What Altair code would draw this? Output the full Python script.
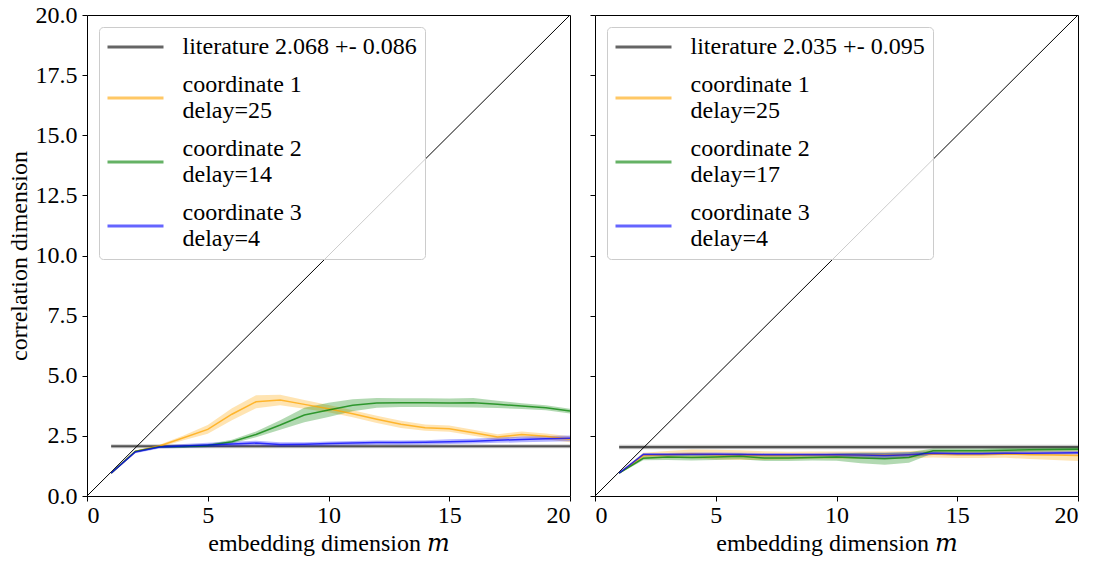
import altair as alt
import pandas as pd

# embedding dimensions
m = list(range(1, 21))

# left panel: correlation dimension estimates (mean and spread) per coordinate
left_lit = 2.068
left_lit_err = 0.086
left_delays = [25, 14, 4]
left_c1 = [0.95, 1.85, 2.08, 2.42, 2.77, 3.40, 3.92, 3.99, 3.81, 3.63, 3.42, 3.19, 2.98, 2.84, 2.80, 2.63, 2.45, 2.56, 2.48, 2.36]
left_c1_sd = [0.02, 0.04, 0.05, 0.10, 0.18, 0.25, 0.27, 0.22, 0.18, 0.15, 0.15, 0.15, 0.15, 0.13, 0.13, 0.12, 0.12, 0.12, 0.12, 0.12]
left_c2 = [0.95, 1.85, 2.05, 2.06, 2.10, 2.26, 2.56, 2.95, 3.37, 3.58, 3.77, 3.87, 3.88, 3.88, 3.87, 3.88, 3.81, 3.74, 3.67, 3.53]
left_c2_sd = [0.02, 0.04, 0.04, 0.05, 0.06, 0.08, 0.12, 0.20, 0.30, 0.30, 0.25, 0.20, 0.18, 0.18, 0.18, 0.20, 0.15, 0.12, 0.10, 0.10]
left_c3 = [0.95, 1.83, 2.04, 2.08, 2.12, 2.16, 2.20, 2.14, 2.15, 2.18, 2.20, 2.22, 2.22, 2.23, 2.26, 2.28, 2.32, 2.35, 2.38, 2.40]
left_c3_sd = [0.02, 0.05, 0.06, 0.08, 0.09, 0.10, 0.10, 0.09, 0.09, 0.09, 0.09, 0.09, 0.09, 0.09, 0.10, 0.10, 0.11, 0.12, 0.12, 0.12]

# right panel
right_lit = 2.035
right_lit_err = 0.095
right_delays = [25, 17, 4]
right_c1 = [0.95, 1.68, 1.72, 1.75, 1.72, 1.70, 1.68, 1.68, 1.70, 1.70, 1.70, 1.70, 1.72, 1.75, 1.72, 1.72, 1.75, 1.72, 1.70, 1.68]
right_c1_sd = [0.02, 0.12, 0.15, 0.18, 0.20, 0.20, 0.18, 0.16, 0.15, 0.15, 0.15, 0.15, 0.15, 0.15, 0.14, 0.14, 0.16, 0.18, 0.20, 0.22]
right_c2 = [0.95, 1.57, 1.62, 1.60, 1.62, 1.65, 1.58, 1.58, 1.60, 1.62, 1.58, 1.55, 1.60, 1.88, 1.88, 1.88, 1.90, 1.92, 1.93, 1.94]
right_c2_sd = [0.02, 0.08, 0.12, 0.12, 0.12, 0.12, 0.12, 0.12, 0.12, 0.15, 0.22, 0.25, 0.22, 0.10, 0.10, 0.10, 0.10, 0.08, 0.08, 0.08]
right_c3 = [0.95, 1.73, 1.73, 1.74, 1.74, 1.73, 1.72, 1.72, 1.72, 1.72, 1.70, 1.68, 1.72, 1.78, 1.76, 1.76, 1.78, 1.78, 1.79, 1.80]
right_c3_sd = [0.02, 0.06, 0.06, 0.07, 0.07, 0.07, 0.07, 0.07, 0.07, 0.08, 0.10, 0.12, 0.10, 0.07, 0.07, 0.07, 0.07, 0.07, 0.07, 0.07]

x_ticks = [0, 5, 10, 15, 20]
y_ticks = [0, 2.5, 5, 7.5, 10, 12.5, 15, 17.5, 20]

FONT = "Liberation Serif, DejaVu Serif, serif"
FS = 24
W, H = 483, 481
colors = ["black", "orange", "green", "blue"]

# legend stroke symbol: a small nominal symbol size keeps the rows compact, the
# path itself is drawn 4 radii to each side (56 px); two-line entries get it
# lowered by half a text line so it sits between the two lines
SYM_R = 7
half_line = (FS + 2) / 2 / SYM_R
sym_expr = f"indexof(datum.label, '|') >= 0 ? 'M-4,{half_line:.4f}H4' : 'M-4,0H4'"
sym_offset = 16.5
label_offset = 35


def panel(lit, lit_err, delays, means, sds, show_y_labels):
    lit_label = f"literature {lit:.3f} +- {lit_err:.3f}"
    labels = [lit_label] + [f"coordinate {i + 1}|delay={d}" for i, d in enumerate(delays)]

    rows = []
    for k, (mu, sd) in enumerate(zip(means, sds)):
        for mi, v, s in zip(m, mu, sd):
            rows.append({"m": mi, "v": v, "lo": v - s, "hi": v + s, "series": labels[k + 1]})
    curves = pd.DataFrame(rows)
    lit_df = pd.DataFrame({
        "m": [m[0], m[-1]],
        "v": [lit, lit],
        "lo": [lit - lit_err] * 2,
        "hi": [lit + lit_err] * 2,
        "series": [lit_label] * 2,
    })
    diag = pd.DataFrame({"m": [0, 20], "v": [0, 20]})

    xscale = alt.Scale(domain=[0, 20], nice=False, zero=False)
    yscale = alt.Scale(domain=[0, 20], nice=False, zero=False)
    xaxis = alt.Axis(values=x_ticks, format="d", title="embedding dimension 𝑚", grid=False,
                     domain=False, tickColor="black", tickSize=5, labelPadding=2,
                     labelFont=FONT, labelFontSize=FS, labelColor="black",
                     titleFont=FONT, titleFontSize=FS, titleFontWeight="normal",
                     titleColor="black", titlePadding=4)
    if show_y_labels:
        yaxis = alt.Axis(values=y_ticks, format=".1f", title="correlation dimension", grid=False,
                         domain=False, tickColor="black", tickSize=5, labelPadding=5,
                         labelFont=FONT, labelFontSize=FS, labelColor="black",
                         titleFont=FONT, titleFontSize=FS, titleFontWeight="normal",
                         titleColor="black", titlePadding=4)
    else:
        yaxis = alt.Axis(values=y_ticks, labels=False, title=None, grid=False, domain=False,
                         tickColor="black", tickSize=5)

    cscale = alt.Scale(domain=labels, range=colors)
    legend = alt.Legend(
        title=None, orient="top-left", offset=12, padding=8,
        fillColor="rgba(255,255,255,0.8)", strokeColor="#cccccc", cornerRadius=4,
        labelFont=FONT, labelFontSize=FS, labelColor="black", labelLimit=0,
        labelOffset=label_offset, rowPadding=14,
        symbolType={"expr": sym_expr}, symbolOffset=sym_offset,
        symbolSize=(2 * SYM_R) ** 2, symbolStrokeWidth=3, symbolOpacity=0.6,
        labelExpr="split(datum.label, '|')",
    )

    x = alt.X("m:Q", scale=xscale, axis=xaxis)
    y = alt.Y("v:Q", scale=yscale, axis=yaxis)

    diag_line = alt.Chart(diag).mark_line(color="black", strokeWidth=1).encode(x=x, y=y)
    lit_band = alt.Chart(lit_df).mark_area(color="black", opacity=0.2).encode(
        x=x, y=alt.Y("lo:Q", scale=yscale, axis=yaxis), y2="hi:Q")
    lit_line = alt.Chart(lit_df).mark_line(strokeWidth=2.2, opacity=0.6).encode(
        x=x, y=y, color=alt.Color("series:N", scale=cscale, legend=legend, sort=labels))
    bands = alt.Chart(curves).mark_area(opacity=0.3).encode(
        x=x, y=alt.Y("lo:Q", scale=yscale, axis=yaxis), y2="hi:Q",
        color=alt.Color("series:N", scale=cscale, legend=None),
        detail="series:N")
    lines = alt.Chart(curves).mark_line(strokeWidth=1.5, opacity=0.75).encode(
        x=x, y=y, color=alt.Color("series:N", scale=cscale, legend=legend, sort=labels))

    return alt.layer(diag_line, lit_band, lit_line, bands, lines).properties(width=W, height=H)


left = panel(left_lit, left_lit_err, left_delays,
             [left_c1, left_c2, left_c3], [left_c1_sd, left_c2_sd, left_c3_sd], True)
right = panel(right_lit, right_lit_err, right_delays,
              [right_c1, right_c2, right_c3], [right_c1_sd, right_c2_sd, right_c3_sd], False)

chart = alt.hconcat(left, right, spacing=14).resolve_scale(color="independent").resolve_legend(
    color="independent"
).properties(
    padding={"left": 6, "top": 2, "right": 3, "bottom": 3}
).configure(background="white", font=FONT).configure_view(stroke="black", strokeWidth=1)

chart.save("out.html", embed_options={"renderer": "svg", "actions": False})
